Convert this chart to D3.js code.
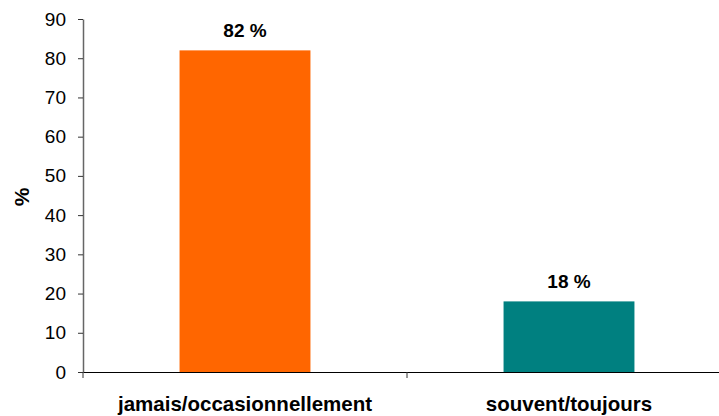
<!DOCTYPE html>
<html>
<head>
<meta charset="utf-8">
<script src="https://cdn.jsdelivr.net/npm/d3@7"></script>
<style>
  html, body { margin: 0; padding: 0; background: #fff; }
  svg { display: block; font-family: "Liberation Sans", Arial, sans-serif; }
</style>
</head>
<body>
<svg id="chart" width="719" height="416"></svg>
<script>
// Response shares by frequency
const categories = ["jamais/occasionnellement", "souvent/toujours"];
const values = [82, 18];
const barColors = ["#FF6600", "#008080"];
const yTicks = [0, 10, 20, 30, 40, 50, 60, 70, 80, 90];
const yTitle = "%";

const svg = d3.select("#chart");
const plotLeft = 83, plotRight = 731, plotTop = 19, plotBottom = 372;
const fontFamily = "Liberation Sans, Arial, sans-serif";

const x = d3.scaleBand().domain(categories).range([plotLeft, plotRight]).paddingInner(0).paddingOuter(0);
const y = d3.scaleLinear().domain([0, 90]).range([plotBottom, plotTop]);
const barW = x.bandwidth() * 0.404;

// value axis
const yAxis = svg.append("g")
  .attr("transform", `translate(${plotLeft},0)`)
  .call(d3.axisLeft(y).tickValues(yTicks).tickSize(5).tickPadding(12).tickSizeOuter(0));
yAxis.select(".domain").attr("stroke", "#666").attr("stroke-width", 1.5);
yAxis.selectAll(".tick line").attr("stroke", "#333");
yAxis.selectAll("text").attr("font-size", 19).attr("fill", "#000")
  .attr("font-family", fontFamily);

// bars
svg.append("g").selectAll("rect").data(values).join("rect")
  .attr("x", (d, i) => x(categories[i]) + (x.bandwidth() - barW) / 2)
  .attr("width", barW)
  .attr("y", d => y(d))
  .attr("height", d => y(0) - y(d))
  .attr("fill", (d, i) => barColors[i]);

// category axis
const xAxis = svg.append("g")
  .attr("transform", `translate(0,${plotBottom})`)
  .call(d3.axisBottom(x).tickSize(0).tickPadding(0));
xAxis.select(".domain").attr("stroke", "#000").attr("stroke-width", 1);
xAxis.selectAll(".tick text")
  .attr("y", 39)
  .attr("dy", 0)
  .attr("font-size", 20.5)
  .attr("font-weight", "bold")
  .attr("fill", "#000")
  .attr("font-family", fontFamily);

// category separators
const sepX = [plotLeft].concat(categories.map(c => x(c) + x.bandwidth()));
svg.append("g").selectAll("line").data(sepX).join("line")
  .attr("x1", d => d).attr("x2", d => d)
  .attr("y1", plotBottom).attr("y2", plotBottom + 6)
  .attr("stroke", "#333");

// value labels
svg.append("g").selectAll("text").data(values).join("text")
  .attr("x", (d, i) => x(categories[i]) + x.bandwidth() / 2)
  .attr("y", d => y(d) - 13.5)
  .attr("text-anchor", "middle")
  .attr("font-size", 19)
  .attr("font-weight", "bold")
  .text(d => `${d} %`);

// axis title
svg.append("text")
  .attr("transform", `translate(29,197) rotate(-90)`)
  .attr("text-anchor", "middle")
  .attr("font-size", 21)
  .attr("font-weight", "bold")
  .text(yTitle);
</script>
</body>
</html>
